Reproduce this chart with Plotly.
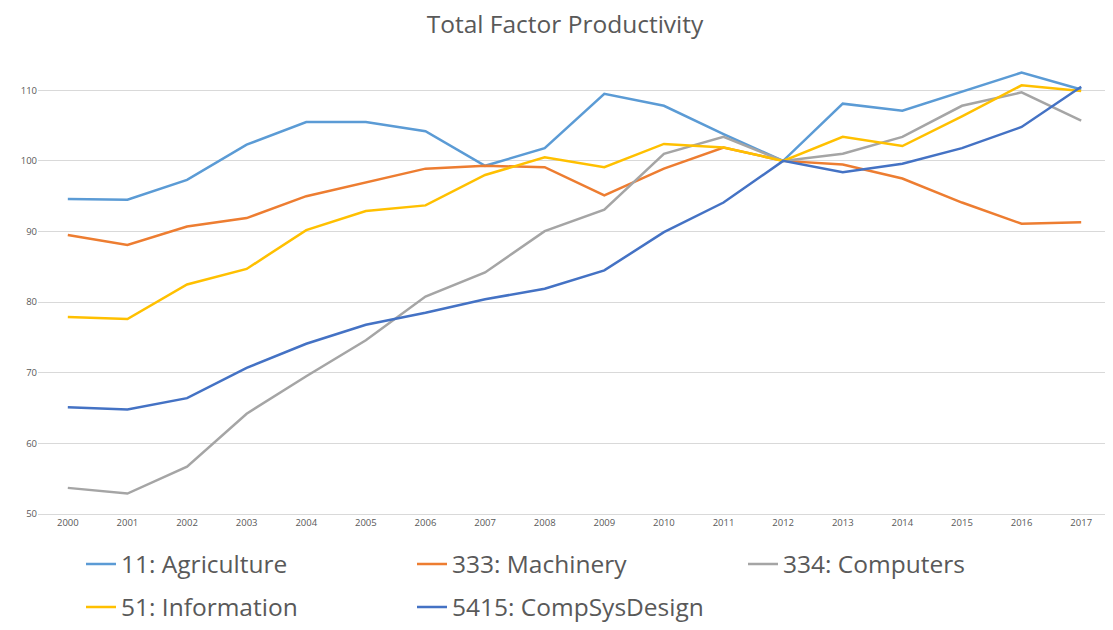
import plotly.graph_objects as go

years = list(range(2000, 2018))

agriculture = [94.6, 94.5, 97.3, 102.3, 105.5, 105.5, 104.2, 99.3, 101.8, 109.5,
               107.8, 103.8, 100.0, 108.1, 107.1, 109.8, 112.5, 110.1]
machinery = [89.5, 88.1, 90.7, 91.9, 95.0, 96.9, 98.9, 99.3, 99.1, 95.1,
             98.9, 101.9, 100.0, 99.5, 97.5, 94.1, 91.1, 91.3]
computers = [53.7, 52.9, 56.7, 64.2, 69.5, 74.6, 80.8, 84.2, 90.05, 93.1,
             101.0, 103.4, 100.0, 101.0, 103.4, 107.8, 109.7, 105.7]
information = [77.9, 77.6, 82.5, 84.7, 90.2, 92.9, 93.7, 98.0, 100.5, 99.1,
               102.4, 101.9, 100.0, 103.4, 102.1, 106.3, 110.7, 109.9]
compsys = [65.1, 64.8, 66.4, 70.7, 74.1, 76.8, 78.5, 80.4, 81.9, 84.5,
           89.9, 94.1, 100.0, 98.4, 99.6, 101.8, 104.8, 110.5]

series = [
    ("11: Agriculture", agriculture, "#5B9BD5", "legend"),
    ("333: Machinery", machinery, "#ED7D31", "legend"),
    ("334: Computers", computers, "#A5A5A5", "legend"),
    ("51: Information", information, "#FFC000", "legend2"),
    ("5415: CompSysDesign", compsys, "#4472C4", "legend2"),
]

fig = go.Figure()
for name, vals, color, lg in series:
    fig.add_trace(go.Scatter(x=years, y=vals, name=name, mode="lines",
                             line=dict(color=color, width=2.5), legend=lg))

font_family = "'Open Sans', sans-serif"
W, H = 1105, 622
L, R, T, B = 30, 2, 54, 115
PW, PH = W - L - R, H - T - B

legend_common = dict(orientation="h", xanchor="left", yanchor="middle",
                     font=dict(size=24.5, color="#595959", family=font_family),
                     entrywidth=286, entrywidthmode="pixels",
                     bgcolor="rgba(0,0,0,0)", itemwidth=30)

fig.update_layout(
    width=W, height=H,
    paper_bgcolor="white", plot_bgcolor="white",
    margin=dict(l=L, r=R, t=T, b=B),
    title=dict(text="Total Factor Productivity", x=557 / W, xanchor="center",
               y=1 - 16 / H, yanchor="middle",
               font=dict(size=24.5, color="#595959", family=font_family)),
    xaxis=dict(range=[1999.5, 2017.5], tickmode="array", tickvals=years,
               ticktext=[str(y) for y in years], showgrid=False,
               showline=True, linecolor="#D9D9D9", linewidth=1,
               ticks="", tickfont=dict(size=9.5, color="#595959", family=font_family),
               zeroline=False),
    yaxis=dict(range=[50, 114], tickmode="array", tickvals=[50, 60, 70, 80, 90, 100, 110],
               showgrid=True, gridcolor="#D9D9D9", gridwidth=1, zeroline=False,
               ticks="", tickfont=dict(size=9.5, color="#595959", family=font_family)),
    legend=dict(x=(73 - L) / PW, y=-(556 - (T + PH)) / PH, **legend_common),
    legend2=dict(x=(73 - L) / PW, y=-(599 - (T + PH)) / PH, **legend_common),
)

fig.write_html("out.html")
